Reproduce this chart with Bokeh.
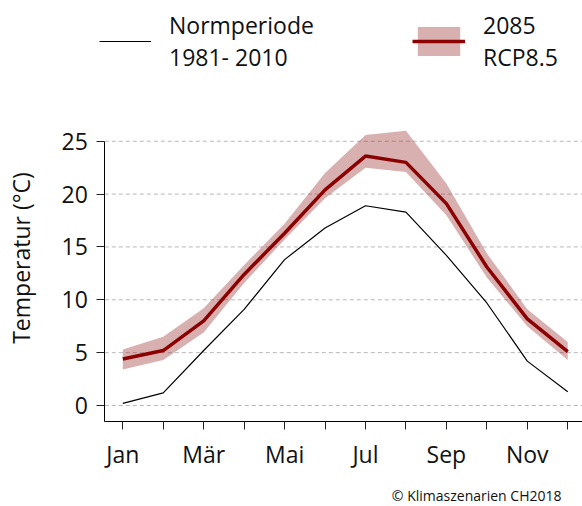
import math
from bokeh.plotting import figure
from bokeh.models import (ColumnDataSource, Legend, LegendItem, FixedTicker, Label, Range1d)
from bokeh.embed import file_html
from bokeh.resources import INLINE

months = ["Jan", "Feb", "Mär", "Apr", "Mai", "Jun", "Jul", "Aug", "Sep", "Okt", "Nov", "Dez"]
month_idx = list(range(1, 13))
shown_labels = ["Jan", "Mär", "Mai", "Jul", "Sep", "Nov"]
y_ticks = [0, 5, 10, 15, 20, 25]

norm_1981_2010 = [0.2, 1.2, 5.2, 9.1, 13.8, 16.8, 18.9, 18.3, 14.2, 9.7, 4.2, 1.3]
rcp85_2085 = [4.4, 5.2, 8.0, 12.4, 16.3, 20.4, 23.6, 23.0, 19.1, 13.1, 8.2, 5.1]
rcp85_low = [3.4, 4.3, 6.9, 11.6, 15.7, 19.6, 22.5, 22.1, 18.0, 12.1, 7.5, 4.3]
rcp85_high = [5.3, 6.5, 9.2, 13.3, 17.2, 22.0, 25.6, 26.0, 21.0, 14.4, 9.1, 6.0]

FONT = "Open Sans"
TXT = "#111111"

# plotting area limits (data units)
X0, X1 = 0.555, 12.365      # x extent of the axes box
Y0, Y1 = -1.514, 25         # y extent of the left axis

src = ColumnDataSource(dict(m=month_idx, norm=norm_1981_2010, mid=rcp85_2085,
                            lo=rcp85_low, hi=rcp85_high))
grid_src = ColumnDataSource(dict(y=y_ticks, x0=[X0] * len(y_ticks), x1=[X1] * len(y_ticks)))

p = figure(width=582, height=506, output_backend="svg", toolbar_location=None,
           x_range=Range1d(-2.0235, 12.365), y_range=Range1d(-9.555, 38.316),
           min_border=0)
p.outline_line_color = None
p.xgrid.visible = False
p.ygrid.visible = False

p.segment(x0="x0", x1="x1", y0="y", y1="y", source=grid_src,
          line_color="#b8b8b8", line_dash="4 3", line_width=1)
band = p.varea(x="m", y1="lo", y2="hi", source=src, fill_color="#9b2f2f", fill_alpha=0.38)
norm_r = p.line(x="m", y="norm", source=src, line_color="black", line_width=1.2)
mid_r = p.line(x="m", y="mid", source=src, line_color="#8b0000", line_width=3.5)

# axes
p.xaxis.fixed_location = Y0
p.yaxis.fixed_location = X0
p.xaxis.bounds = (X0, X1)
p.yaxis.bounds = (Y0, Y1)
p.xaxis.ticker = FixedTicker(ticks=month_idx)
p.xaxis.major_label_overrides = {i: (mo if mo in shown_labels else "") for i, mo in zip(month_idx, months)}
p.yaxis.ticker = FixedTicker(ticks=y_ticks)
for ax in (p.xaxis[0], p.yaxis[0]):
    ax.major_tick_in = 0
    ax.major_tick_out = 8
    ax.minor_tick_line_color = None
    ax.axis_line_color = "black"
    ax.major_tick_line_color = "#222222"
    ax.major_label_text_font = FONT
    ax.major_label_text_font_size = "23px"
    ax.major_label_text_color = TXT
p.xaxis.major_label_standoff = 8
p.yaxis.major_label_standoff = 9

ylab = Label(x=20, y=248.5, x_units="screen", y_units="screen", text="Temperatur (°C)",
             angle=math.pi / 2, text_align="center", text_baseline="middle",
             text_font=FONT, text_font_size="23px", text_color=TXT)
p.add_layout(ylab)

copy = Label(x=561, y=11, x_units="screen", y_units="screen", text="© Klimaszenarien CH2018",
             text_align="right", text_baseline="middle",
             text_font=FONT, text_font_size="14px", text_color=TXT)
p.add_layout(copy)

common = dict(padding=0, margin=0, border_line_color=None, background_fill_alpha=0,
              glyph_height=36, label_standoff=18,
              label_text_font=FONT, label_text_font_size="23px", label_text_color=TXT,
              label_text_line_height=1.58)
leg1 = Legend(items=[LegendItem(label="Normperiode\n1981- 2010", renderers=[norm_r])],
              location=(99, 433), glyph_width=52, **common)
leg2 = Legend(items=[LegendItem(label="2085\nRCP8.5", renderers=[band, mid_r])],
              location=(412, 433), glyph_width=53, **common)
p.add_layout(leg1)
p.add_layout(leg2)

open("out.html", "w").write(file_html(p, INLINE))
